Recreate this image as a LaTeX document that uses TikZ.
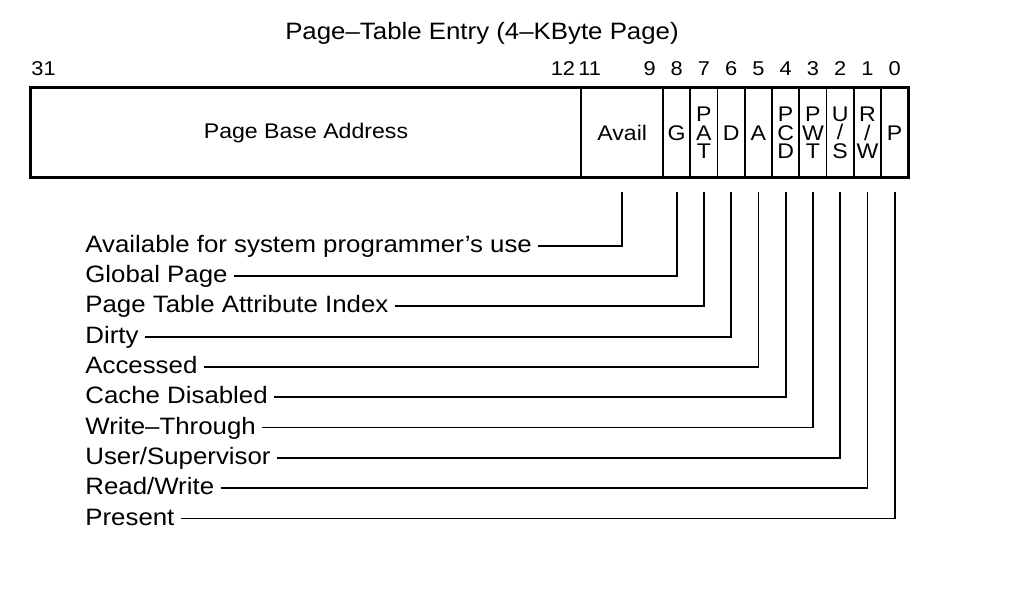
\documentclass[tikz,border=0pt]{standalone}
\usepackage{fontspec}
\setmainfont{Liberation Sans}[FakeStretch=1.09]
\begin{document}
\begin{tikzpicture}[x=0.5pt, y=-0.5pt,
    cell/.style={draw, line width=0.85pt, inner sep=0pt, minimum height=44.5pt,
      minimum width=13.625pt, align=center, font=\fontsize{10.6}{9.4}\selectfont},
    bitnum/.style={inner sep=0pt, font=\fontsize{10}{11}\selectfont},
    flag/.style={anchor=west, inner xsep=3pt, inner ysep=0pt, text height=8.2pt,
      text depth=1.6pt, font=\fontsize{11.85}{14}\selectfont},
    leader/.style={line width=0.9pt}]
  \useasboundingbox (0,0) rectangle (1010,590);
  \node[anchor=base, inner sep=0pt, font=\fontsize{11.85}{14}\selectfont] (title)
    at (482,39.5) {Page--Table Entry (4--KByte Page)};
  \path
    (306,132.8) node[cell, minimum width=275.3pt] (pba) {Page Base Address}
    (622.2,132.8) node[cell, minimum width=40.875pt] (avail) {Avail}
    (676.675,132.8) node[cell] (g) {G}
    (703.925,132.8) node[cell] (pat) {P\\A\\T}
    (731.175,132.8) node[cell] (d) {D}
    (758.425,132.8) node[cell] (a) {A}
    (785.675,132.8) node[cell] (pcd) {P\\C\\D}
    (812.925,132.8) node[cell] (pwt) {P\\W\\T}
    (840.175,132.8) node[cell] (us) {U\\/\\S}
    (867.425,132.8) node[cell] (rw) {R\\/\\W}
    (894.675,132.8) node[cell] (p) {P};
  \draw[line width=1.2pt] (pba.north west) rectangle (p.south east);
  % bit numbers
  \path
    (31,69) node[bitnum, anchor=west] (n31) {31}
    (575.5,69) node[bitnum, anchor=east] (n12) {12}
    (578,69) node[bitnum, anchor=west] (n11) {11}
    (649.6,69) node[bitnum] (n9) {9}
    (676.675,69) node[bitnum] (n8) {8}
    (703.925,69) node[bitnum] (n7) {7}
    (731.175,69) node[bitnum] (n6) {6}
    (758.425,69) node[bitnum] (n5) {5}
    (785.675,69) node[bitnum] (n4) {4}
    (812.925,69) node[bitnum] (n3) {3}
    (840.175,69) node[bitnum] (n2) {2}
    (867.425,69) node[bitnum] (n1) {1}
    (894.675,69) node[bitnum] (n0) {0};
  % flag names
  \path
    (79,245.7) node[flag] (lavail) {Available for system programmer’s use}
    (79,276.0) node[flag] (lg) {Global Page}
    (79,306.3) node[flag] (lpat) {Page Table Attribute Index}
    (79,336.6) node[flag] (ld) {Dirty}
    (79,366.9) node[flag] (la) {Accessed}
    (79,397.2) node[flag] (lpcd) {Cache Disabled}
    (79,427.5) node[flag] (lpwt) {Write--Through}
    (79,457.8) node[flag] (lus) {User/Supervisor}
    (79,488.1) node[flag] (lrw) {Read/Write}
    (79,518.4) node[flag] (lp) {Present};
  \begin{scope}[leader]
    \draw (lavail.east) -| ([yshift=-7pt]avail.south);
    \draw (lg.east) -| ([yshift=-7pt]g.south);
    \draw (lpat.east) -| ([yshift=-7pt]pat.south);
    \draw (ld.east) -| ([yshift=-7pt]d.south);
    \draw (la.east) -| ([yshift=-7pt]a.south);
    \draw (lpcd.east) -| ([yshift=-7pt]pcd.south);
    \draw (lpwt.east) -| ([yshift=-7pt]pwt.south);
    \draw (lus.east) -| ([yshift=-7pt]us.south);
    \draw (lrw.east) -| ([yshift=-7pt]rw.south);
    \draw (lp.east) -| ([yshift=-7pt]p.south);
  \end{scope}
\end{tikzpicture}
\end{document}
